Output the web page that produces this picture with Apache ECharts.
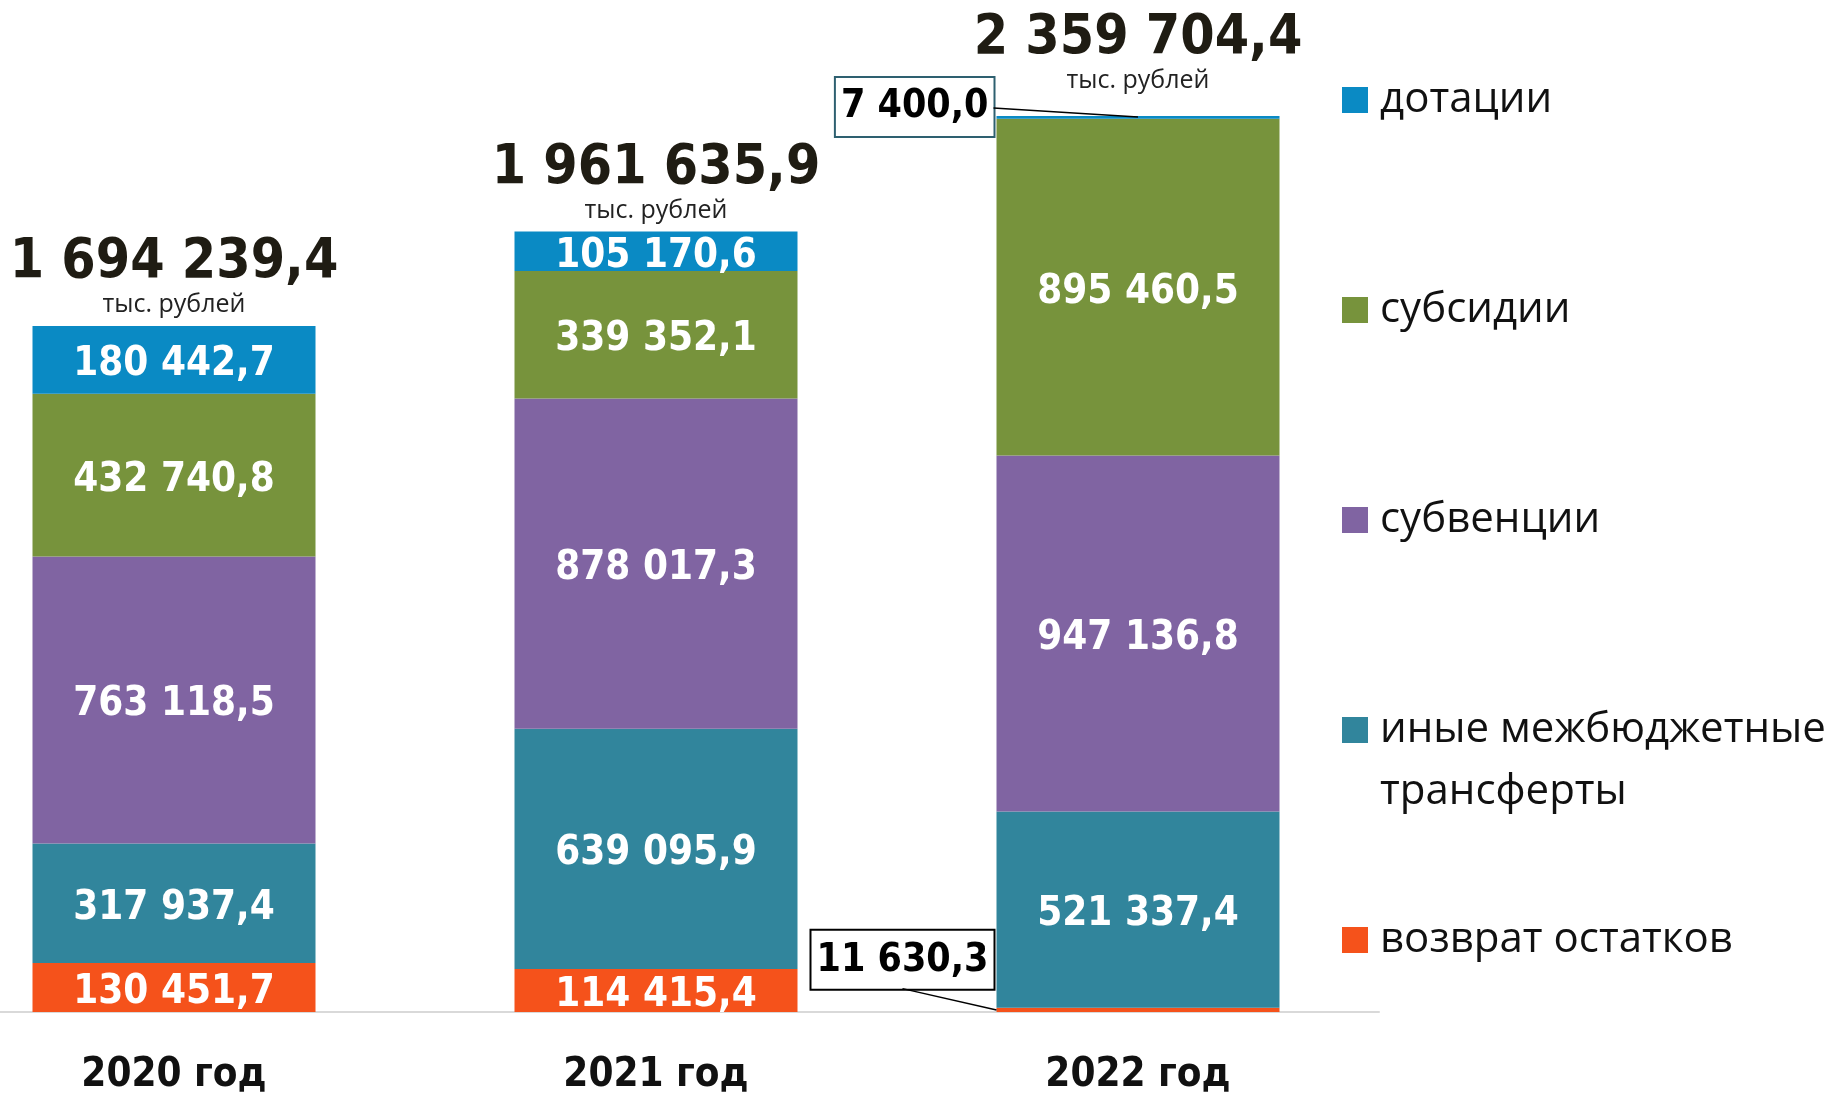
<!DOCTYPE html>
<html>
<head>
<meta charset="utf-8">
<script src="https://cdn.jsdelivr.net/npm/echarts@6/dist/echarts.min.js"></script>
<style>
  html, body { margin: 0; padding: 0; background: #fff; }
  #chart { width: 1833px; height: 1097px; }
</style>
</head>
<body>
<div id="chart"></div>
<script>
// ---- data (тыс. рублей) ----
const years = ['2020 год', '2021 год', '2022 год']
const dotacii = [180442.7, 105170.6, 7400.0]
const subsidii = [432740.8, 339352.1, 895460.5]
const subvencii = [763118.5, 878017.3, 947136.8]
const inyeTransferty = [317937.4, 639095.9, 521337.4]
const vozvratOstatkov = [130451.7, 114415.4, 11630.3]
const totals = [1694239.4, 1961635.9, 2359704.4]
const legendNames = ['дотации', 'субсидии', 'субвенции', 'иные межбюджетные трансферты', 'возврат остатков']

const condensed = '"DejaVu Sans Condensed", "Liberation Sans Narrow", sans-serif'
const regular = '"Open Sans", "Noto Sans", sans-serif'
const BAR_W = 283

// 1694239.4 -> "1 694 239,4"
function fmt(v) {
  const parts = v.toFixed(1).split('.')
  return parts[0].replace(/\B(?=(\d{3})+(?!\d))/g, ' ') + ',' + parts[1]
}

// height of the whole column for a year = sum of all segments
function stackTop(i) {
  return dotacii[i] + subsidii[i] + subvencii[i] + inyeTransferty[i] + vozvratOstatkov[i]
}

// boxed label for thin segments (2022), placed outside the bar
function calloutLabel(borderColor) {
  return {
    color: '#000',
    fontSize: 39,
    backgroundColor: '#fff',
    borderColor: borderColor,
    borderWidth: 2,
    padding: [11, 5, 8, 5],
  }
}

function barSeries(name, values, color, callout) {
  return {
    name: name,
    type: 'bar',
    stack: 'all',
    barWidth: BAR_W,
    itemStyle: { color: color },
    emphasis: { disabled: true },
    label: {
      show: true,
      position: 'inside',
      color: '#fff',
      fontFamily: condensed,
      fontWeight: 'bold',
      fontSize: 40,
      formatter: (p) => fmt(p.value),
    },
    data: values.map((v, i) =>
      callout && callout.index === i ? { value: v, label: calloutLabel(callout.border) } : v
    ),
    // nudge the digits a little lower inside the segment; move callouts out
    labelLayout: (p) =>
      callout && callout.index === p.dataIndex ? callout.layout(p) : { dy: 5 },
  }
}

const chart = echarts.init(document.getElementById('chart'))

chart.setOption({
  animation: false,
  backgroundColor: '#fff',
  grid: { left: -67, right: 454, top: 72, bottom: 85, containLabel: false, outerBoundsMode: 'none' },
  xAxis: {
    type: 'category',
    data: years,
    axisTick: { show: false },
    axisLine: { lineStyle: { color: '#d9d9d9', width: 2 } },
    axisLabel: {
      margin: 44,
      color: '#111',
      fontFamily: condensed,
      fontWeight: 'bold',
      fontSize: 40,
    },
  },
  yAxis: { type: 'value', min: 0, max: 2500000, show: false },
  legend: {
    orient: 'vertical',
    left: 1342,
    top: 79,
    padding: 0,
    icon: 'rect',
    itemWidth: 26,
    itemHeight: 26,
    itemGap: 168,
    selectedMode: false,
    data: legendNames,
    formatter: (n) => (n === 'иные межбюджетные трансферты' ? 'иные межбюджетные' : n),
    textStyle: {
      fontFamily: regular,
      fontSize: 42,
      color: '#111',
      lineHeight: 26,
      padding: [0, 0, 0, 7],
    },
  },
  graphic: [
    {
      type: 'text',
      x: 1380,
      y: 792,
      style: {
        text: 'трансферты',
        fontFamily: regular,
        fontSize: 42,
        fill: '#111',
        verticalAlign: 'middle',
      },
    },
  ],
  series: [
    barSeries('возврат остатков', vozvratOstatkov, '#f5521b', {
      index: 2,
      border: '#000',
      layout: (p) => ({ x: p.rect.x - 94, y: p.rect.y - 19, align: 'center', verticalAlign: 'bottom' }),
    }),
    barSeries('иные межбюджетные трансферты', inyeTransferty, '#31859c'),
    barSeries('субвенции', subvencii, '#8064a2'),
    barSeries('субсидии', subsidii, '#77933c'),
    barSeries('дотации', dotacii, '#0a8ac4', {
      index: 2,
      border: '#2e6070',
      layout: (p) => ({ x: p.rect.x - 3, y: p.rect.y - 9, align: 'right', verticalAlign: 'middle' }),
    }),
    // empty top segment that carries the total above each column
    {
      name: 'итого',
      type: 'bar',
      stack: 'all',
      barWidth: BAR_W,
      itemStyle: { color: 'transparent' },
      emphasis: { disabled: true },
      label: {
        show: true,
        position: 'top',
        distance: 8,
        formatter: (p) => '{t|' + fmt(totals[p.dataIndex]) + '}\n{u|тыс. рублей}',
        rich: {
          t: {
            fontFamily: condensed,
            fontWeight: 'bold',
            fontSize: 55,
            color: '#1f1c13',
            lineHeight: 58,
            align: 'center',
          },
          u: {
            fontFamily: regular,
            fontSize: 25,
            color: '#222',
            lineHeight: 26,
            align: 'center',
          },
        },
      },
      data: totals.map((t, i) => (i === 2 ? { value: 0, label: { distance: 22 } } : 0)),
    },
    // leader lines from the 2022 boxed labels to their thin segments
    {
      name: 'выноски',
      type: 'custom',
      silent: true,
      z: 5,
      data: [
        [2, stackTop(2)],
        [2, 0],
      ],
      renderItem: (params, api) => {
        const p = api.coord([api.value(0), api.value(1)])
        const half = BAR_W / 2
        let from, to
        if (params.dataIndex === 0) {
          from = [p[0] - half - 3, p[1] - 8]
          to = [p[0], p[1] + 1]
        } else {
          const segTop = api.coord([api.value(0), vozvratOstatkov[2]])[1]
          from = [p[0] - half - 94, segTop - 19]
          to = [p[0] - half, p[1] - 2]
        }
        return {
          type: 'line',
          shape: { x1: from[0], y1: from[1], x2: to[0], y2: to[1] },
          style: { stroke: '#000', lineWidth: 1.5 },
        }
      },
    },
  ],
})
</script>
</body>
</html>
